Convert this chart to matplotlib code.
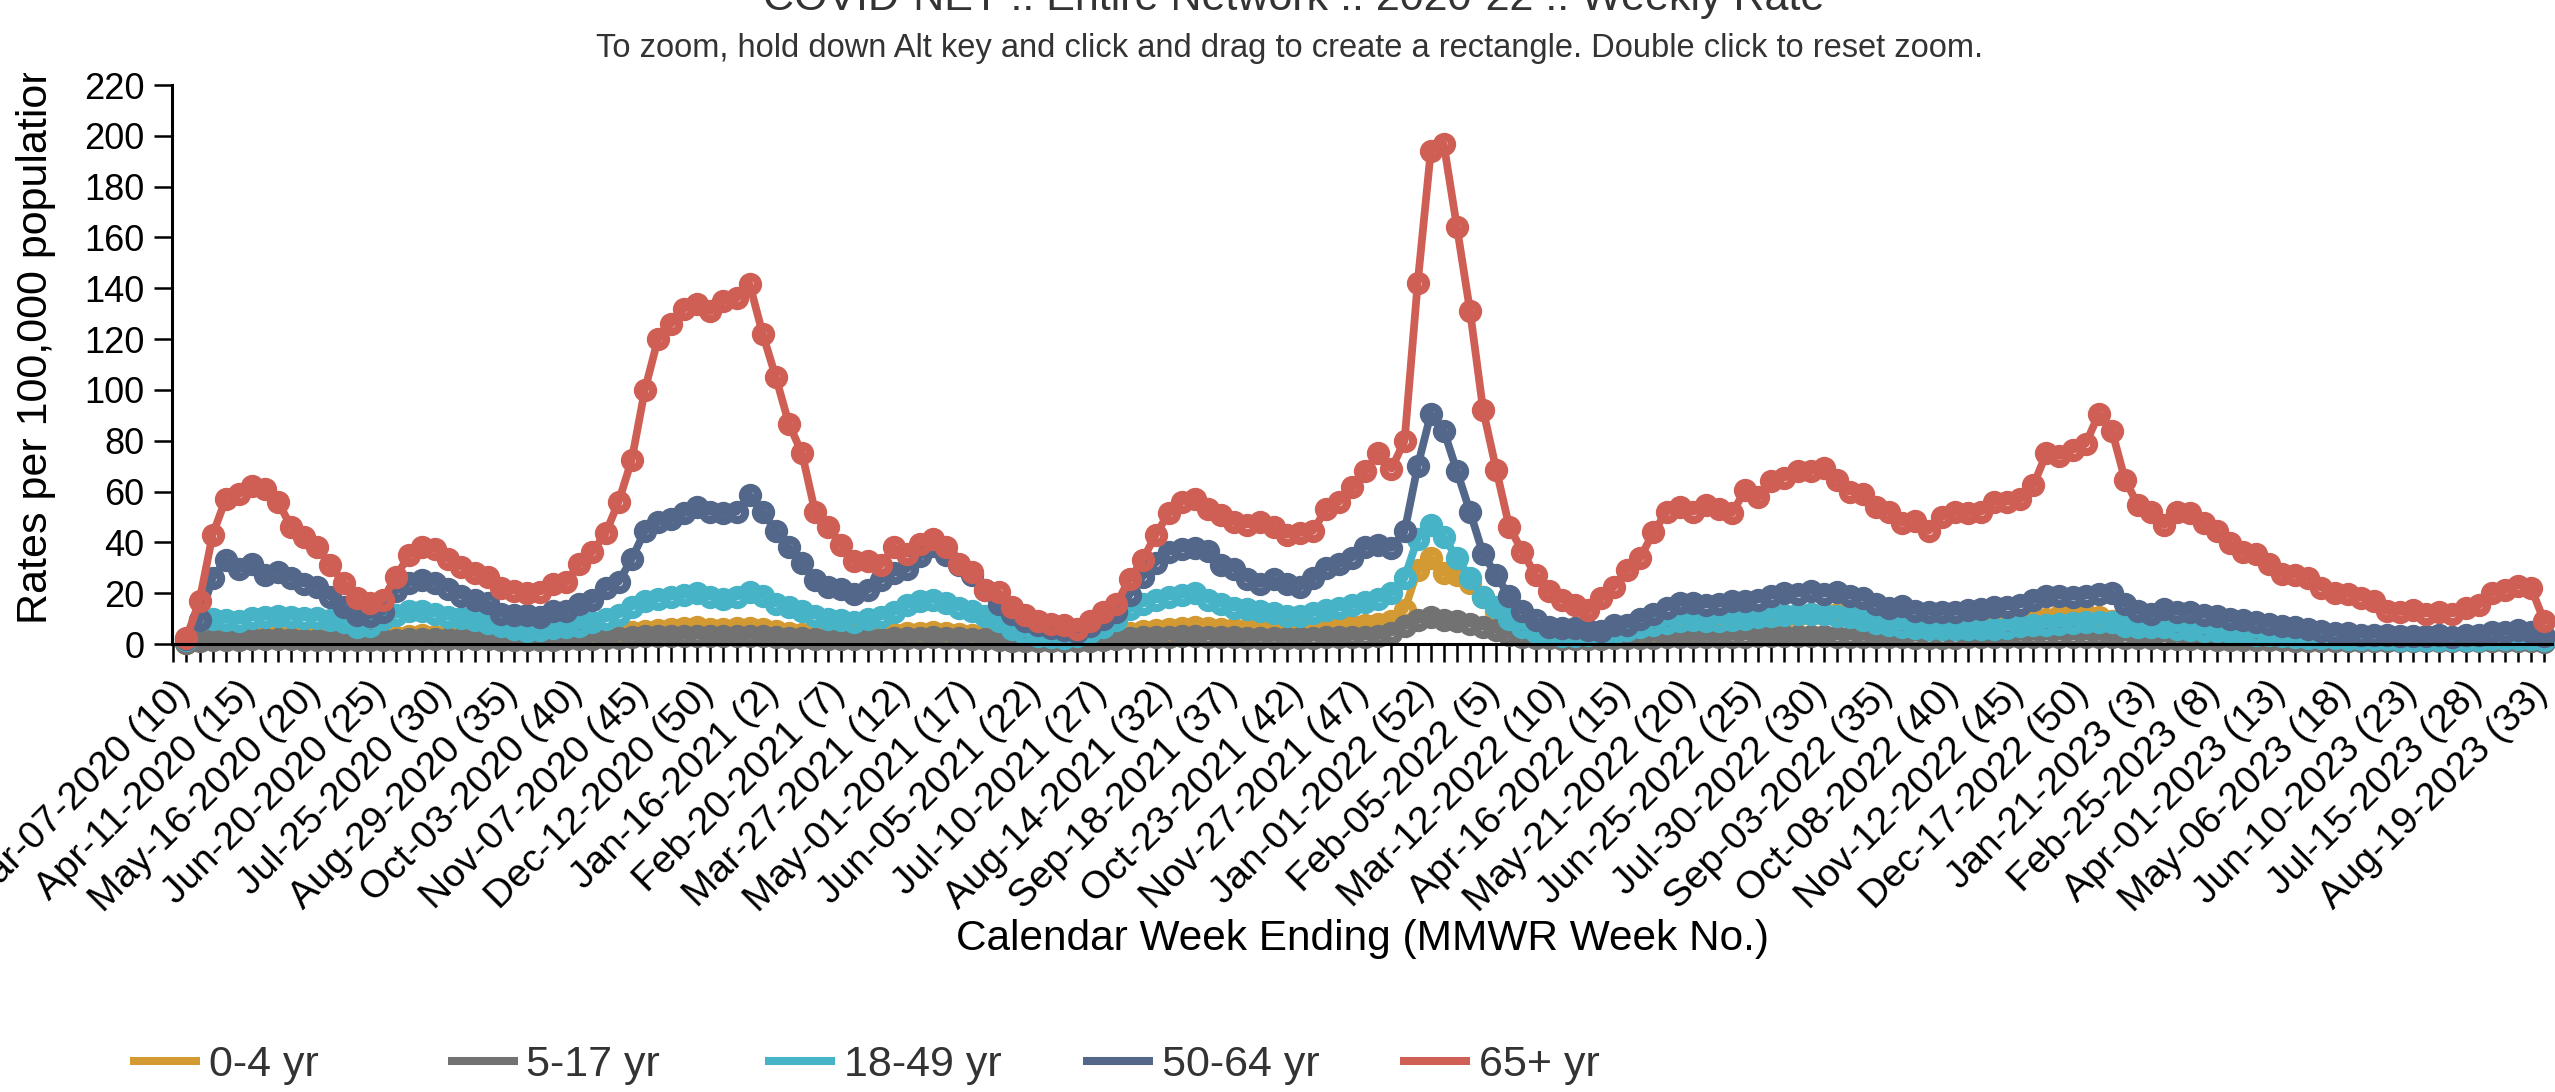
import numpy as np
import matplotlib
matplotlib.use("Agg")
import matplotlib.pyplot as plt
from matplotlib.lines import Line2D
from matplotlib.transforms import Bbox, TransformedBbox, ScaledTranslation

plt.rcParams['font.family'] = ['Liberation Sans', 'DejaVu Sans']

# x tick labels, one every 5 weeks
week_labels = [
    "Mar-07-2020 (10)", "Apr-11-2020 (15)", "May-16-2020 (20)", "Jun-20-2020 (25)",
    "Jul-25-2020 (30)", "Aug-29-2020 (35)", "Oct-03-2020 (40)", "Nov-07-2020 (45)",
    "Dec-12-2020 (50)", "Jan-16-2021 (2)", "Feb-20-2021 (7)", "Mar-27-2021 (12)",
    "May-01-2021 (17)", "Jun-05-2021 (22)", "Jul-10-2021 (27)", "Aug-14-2021 (32)",
    "Sep-18-2021 (37)", "Oct-23-2021 (42)", "Nov-27-2021 (47)", "Jan-01-2022 (52)",
    "Feb-05-2022 (5)", "Mar-12-2022 (10)", "Apr-16-2022 (15)", "May-21-2022 (20)",
    "Jun-25-2022 (25)", "Jul-30-2022 (30)", "Sep-03-2022 (35)", "Oct-08-2022 (40)",
    "Nov-12-2022 (45)", "Dec-17-2022 (50)", "Jan-21-2023 (3)", "Feb-25-2023 (8)",
    "Apr-01-2023 (13)", "May-06-2023 (18)", "Jun-10-2023 (23)", "Jul-15-2023 (28)",
    "Aug-19-2023 (33)",
]

age_groups = ["0-4 yr", "5-17 yr", "18-49 yr", "50-64 yr", "65+ yr"]
colors = ["#d39a33", "#727272", "#46b3c6", "#526789", "#cf5f55"]

# weekly rates per 100,000 (Mar-07-2020 .. Aug-19-2023)
rate_0_4 = [
    0.5, 2, 2.6, 2.8, 2.8, 2.9, 2.9, 3, 2.9, 3, 3, 2.9, 2.7, 2.4, 2.3, 2.6, 2.9, 3.2, 3.5, 3.2,
    3, 2.9, 2.8, 2.7, 2.5, 2.4, 2.3, 2.3, 2.6, 2.7, 2.9, 3.3, 3.6, 4.4, 4.8, 5, 5.5, 5.9, 6.2, 6.5,
    6, 5.8, 6.3, 6.4, 6, 5.3, 4.5, 4, 3.6, 3.3, 3.2, 3, 3.1, 3.3, 3.8, 4.2, 4.5, 4.6, 4.2, 3.8,
    3.5, 3, 2.7, 2.3, 2, 1.8, 1.7, 1.7, 1.9, 2.3, 3.1, 3.6, 4.4, 5.2, 5.6, 6, 6.3, 6.6, 6.4, 6,
    5.8, 5.6, 5.8, 5.8, 5.5, 5.7, 6.1, 6.4, 6.8, 7.2, 7.5, 8, 9, 13.5, 29, 33.7, 28, 27, 24, 18.6,
    12.7, 9.4, 6.8, 5.5, 4.2, 3.5, 3, 2.9, 2.9, 3, 3.1, 3.4, 3.8, 4.2, 4.7, 4.9, 5.3, 6, 7, 7.5,
    8.5, 9.5, 10.5, 11.5, 12, 12, 12, 11.5, 11, 9.5, 8, 7, 6.5, 6, 6, 6, 6.5, 7, 7.5, 8,
    9, 9.5, 10, 11, 12, 11.5, 10.5, 9, 8, 7, 6.5, 6, 5.5, 5, 5, 4.5, 4, 3.5, 3.5, 3,
    3, 2.7, 2.5, 2.4, 2.2, 2.1, 2, 1.9, 1.8, 1.8, 1.7, 1.7, 1.8, 1.8, 1.9, 2, 2.2, 2.3, 2.4, 2.3,
    1.5,
]
rate_5_17 = [
    0.3, 1.2, 1.5, 1.7, 1.7, 1.8, 1.8, 1.8, 1.8, 1.7, 1.7, 1.6, 1.5, 1.4, 1.4, 1.5, 1.7, 1.9, 2, 2,
    1.9, 1.8, 1.8, 1.8, 1.7, 1.6, 1.6, 1.6, 1.7, 1.8, 1.9, 2.1, 2.3, 2.5, 2.8, 3, 3, 3.1, 3.2, 3.2,
    3, 3, 3.1, 3.2, 3, 2.7, 2.4, 2.2, 2, 1.9, 1.8, 1.8, 1.9, 2, 2.2, 2.4, 2.5, 2.6, 2.5, 2.3,
    2.1, 1.8, 1.5, 1.2, 1.1, 1, 1, 1, 1.1, 1.3, 1.6, 1.9, 2.3, 2.6, 2.7, 2.9, 3, 3, 2.9, 2.7,
    2.6, 2.5, 2.4, 2.4, 2.4, 2.4, 2.5, 2.6, 2.7, 2.8, 2.9, 3.1, 4.5, 7, 9.4, 10.5, 9.4, 9, 8, 6.8,
    5.5, 3.5, 2.7, 2.4, 2.2, 2, 2, 2, 2.1, 2.2, 2.3, 2.4, 2.5, 2.6, 2.7, 2.8, 2.8, 2.8, 2.8, 2.9,
    3, 3, 3, 3, 3, 3, 2.9, 2.9, 2.8, 2.7, 2.6, 2.6, 2.5, 2.5, 2.5, 2.5, 2.6, 2.6, 2.7, 2.7,
    2.8, 2.8, 2.9, 2.9, 2.9, 2.9, 2.8, 2.7, 2.5, 2.3, 2.2, 2.1, 2, 1.9, 1.8, 1.7, 1.6, 1.5, 1.5, 1.4,
    1.4, 1.3, 1.3, 1.2, 1.2, 1.2, 1.1, 1.1, 1.1, 1, 1, 1, 1, 1, 1, 1, 1.1, 1.1, 1.1, 1.1,
    0.8,
]
rate_18_49 = [
    1.5, 9.4, 9.8, 9.5, 9.1, 10.4, 10.7, 10.9, 10.7, 10.4, 10.4, 9.3, 8.5, 6.5, 7.2, 9.7, 11.5, 12.8, 13, 11.9,
    10.7, 10.1, 9.3, 8.3, 6.9, 5.9, 5.1, 5.5, 6.2, 6.5, 7.2, 8.6, 10, 11.5, 14.7, 16.8, 17.8, 18.6, 19.3, 20,
    18.6, 17.6, 18.6, 20.3, 19, 15.9, 14.5, 12.9, 11.2, 9.7, 9.4, 8.8, 9.7, 10.7, 12.5, 15.3, 16.8, 17.5, 16.1, 14.3,
    12.9, 10.9, 9.1, 5.8, 4.1, 3, 2.7, 2.5, 3, 4.8, 6.6, 9.5, 13.7, 15.9, 17.5, 18.6, 19.3, 20, 17.5, 15.8,
    14.3, 13.6, 12.9, 12.2, 11.2, 11, 12.2, 13.2, 14.3, 15.3, 16.4, 17.8, 20, 26, 41.5, 47, 42, 34, 26, 18.6,
    14.7, 9.7, 6.8, 4.7, 4, 3.2, 3.3, 3.6, 3.8, 4.3, 5.4, 6.5, 7.6, 8.3, 9.1, 9.4, 9, 9.2, 9.3, 9.8,
    10.6, 11.2, 11.4, 11.8, 11.8, 11.8, 11.2, 10.6, 9.4, 8.1, 7.5, 6.8, 6.2, 5.8, 5.8, 5.8, 5.8, 5.8, 5.8, 6.4,
    7, 7.3, 7.6, 8, 8.3, 8.6, 8.8, 8.6, 7, 6.6, 6.5, 6.6, 6, 5.5, 5.3, 5, 4.6, 4.3, 3.7, 3.4,
    3.2, 2.7, 2.5, 2.3, 2.2, 2, 2, 1.9, 1.8, 1.7, 1.7, 1.6, 1.7, 1.6, 1.7, 1.7, 1.8, 1.9, 2, 1.9,
    1.5,
]
rate_50_64 = [
    2, 9.4, 26, 33, 29.4, 31.5, 27, 28.5, 26, 23.8, 22.4, 18.6, 14.5, 11.4, 11.2, 12.7, 21, 24, 25.2, 24,
    21.8, 19, 17.2, 16, 12, 11.4, 11.3, 10.5, 12.8, 12.8, 15.6, 17.3, 22, 24.5, 33.5, 44.5, 48, 49, 51.5, 54,
    52, 51.5, 52, 58.5, 52, 44.5, 38, 32, 25, 22.3, 21.5, 19.5, 21.2, 25.2, 28, 29.5, 34.5, 38.5, 35, 31,
    27, 21.2, 15.8, 12, 9, 7.3, 6.2, 5.5, 4.8, 7, 9.9, 12.6, 19.4, 26.5, 32, 36.4, 37.5, 37.8, 36.5, 31,
    29.7, 25.7, 23.6, 25.4, 23.6, 22.3, 25.8, 30, 31.4, 34, 38.3, 39, 37.8, 44.3, 70, 90.5, 84, 68, 52, 35.4,
    27, 18.7, 13, 9.3, 6.5, 6.2, 6.2, 5.5, 5, 7.5, 7.6, 10, 12, 14.2, 16.2, 16, 15.5, 15.8, 16.8, 16.8,
    17.5, 19, 20, 19.8, 21, 19.8, 20.5, 19, 18.3, 15.8, 14, 15, 13, 12.6, 12.6, 12.6, 13.3, 13.6, 14.4, 14.7,
    15.5, 17.3, 18.8, 19, 18.6, 19, 19.8, 20, 15.8, 13, 11.8, 13.6, 12.6, 12.6, 11.5, 10.9, 10, 9.4, 8.8, 8,
    6.9, 6.6, 5.8, 5.2, 4.5, 4.3, 3.7, 3.7, 3.5, 3, 3.1, 3, 3.4, 2.8, 3.4, 3.4, 4.8, 4.8, 5.5, 4.8,
    3,
]
rate_65 = [
    2.3, 17, 43, 57, 59, 62, 61, 56, 46, 42, 38, 31, 24, 18, 16, 17.5, 26.5, 35, 38, 37.5,
    33.5, 30.4, 28, 26.5, 22, 21, 20, 20.6, 23.5, 24.3, 31.5, 36.4, 43.5, 56, 72.5, 100, 120, 126, 132, 134,
    131, 135, 136, 141.6, 122, 105, 86.6, 75, 52, 46, 39, 32.5, 32.5, 31, 38, 35.5, 39.5, 41.5, 38, 31.5,
    28.5, 21.3, 20.3, 14.5, 11.5, 9, 8, 7.3, 6, 9, 12.6, 15.8, 25.5, 33, 43, 51.5, 56, 57, 53, 50.7,
    48, 47, 48, 46, 43, 43.7, 44.5, 53, 56, 61.6, 68, 75, 69, 80, 142, 194, 196.6, 164, 131, 92,
    68.6, 46, 36.4, 27, 21, 17.5, 15.2, 13.2, 18, 22.6, 29, 34, 44, 52, 54, 52, 54.6, 53, 51.5, 60.5,
    57.7, 64, 65.5, 68, 68, 69.4, 64.7, 60, 59, 53.8, 52, 47.6, 48.4, 44.5, 50, 52, 51.5, 52, 56, 56,
    57, 62.4, 75, 74, 76.4, 78.8, 90.5, 84, 64.7, 54.6, 52, 46.8, 52, 51.5, 47.6, 44.5, 39.7, 36.2, 35.4, 31.4,
    27.5, 27.2, 26, 22.2, 20, 19.8, 18.3, 16.9, 13, 12.6, 13.4, 12, 12.5, 12, 14, 15.2, 20, 21.2, 23, 22.2,
    9,
]
series = [rate_0_4, rate_5_17, rate_18_49, rate_50_64, rate_65]

W, H = 2555, 1092
fig = plt.figure(figsize=(W / 100, H / 100), dpi=100)
ax = fig.add_axes([172 / W, 1 - 644 / H, (2552 - 172) / W, (644 - 85) / H])

weeks = np.arange(len(rate_65))
for vals, c in zip(series, colors):
    ax.plot(weeks, vals, color=c, lw=5.6, marker='o', ms=11, mfc='none',
            mec=c, mew=5.8, solid_joinstyle='round', clip_on=False)

ax.set_xlim(-1.1, 180.6)
ax.set_ylim(0, 220)
ax.set_yticks(np.arange(0, 221, 20))

# one tick per week, a label every fifth week
tick_pos = np.arange(-1, 181)
tick_lab = [''] * len(tick_pos)
for i, lab in enumerate(week_labels):
    tick_lab[i * 5 + 1] = lab
ax.set_xticks(tick_pos, tick_lab)

for s in ['top', 'right']:
    ax.spines[s].set_visible(False)
for s in ['left', 'bottom']:
    ax.spines[s].set_linewidth(2.2)
ax.tick_params(axis='both', length=13, width=1.8, colors='black', direction='out')
ax.tick_params(axis='y', labelsize=26, pad=7)
ax.tick_params(axis='x', labelsize=28, pad=9)
for lab in ax.get_xticklabels():
    lab.set_rotation(45)
    lab.set_ha('right')
    lab.set_va('top')
    lab.set_rotation_mode('anchor')
    lab.set_transform(lab.get_transform() + ScaledTranslation(-0.15, 0, fig.dpi_scale_trans))

# titles
fig.text(1294 / W, 1 - 10 / H, "COVID-NET :: Entire Network :: 2020-22 :: Weekly Rate",
         ha='center', va='baseline', fontsize=31, color='#333333')
fig.text(1290 / W, 1 - 57 / H,
         "To zoom, hold down Alt key and click and drag to create a rectangle. Double click to reset zoom.",
         ha='center', va='baseline', fontsize=23.5, color='#333333')

ylab = fig.text(36 / W, 1 - 342 / H, "Rates per 100,000 population", rotation=90,
                ha='center', va='center', fontsize=31, color='black')
ylab.set_clip_box(TransformedBbox(Bbox([[0, 0], [1, 1 - 73 / H]]), fig.transFigure))
ylab.set_clip_on(True)

fig.text(1362 / W, 1 - 950 / H, "Calendar Week Ending (MMWR Week No.)",
         ha='center', va='baseline', fontsize=30.5, color='black')

# legend, evenly spaced like the original
for i, (name, c) in enumerate(zip(age_groups, colors)):
    x0 = 130 + 317.5 * i
    fig.add_artist(Line2D([x0 / W, (x0 + 70) / W], [1 - 1061 / H, 1 - 1061 / H],
                          transform=fig.transFigure, color=c, lw=5.8, solid_capstyle='butt'))
    fig.text((x0 + 79) / W, 1 - 1076 / H, name, ha='left', va='baseline',
             fontsize=31, color='#333333')

fig.savefig("out.png", dpi=100)
